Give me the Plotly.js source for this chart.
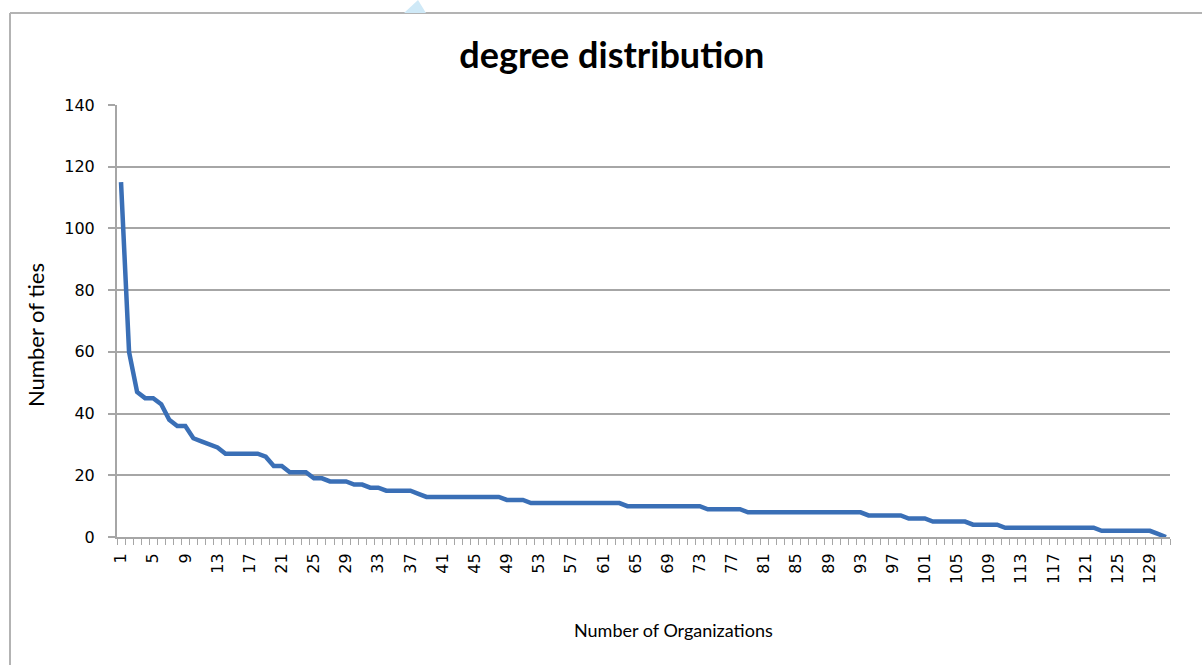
<!DOCTYPE html>
<html>
<head>
<meta charset="utf-8">
<script src="https://cdn.plot.ly/plotly-3.0.1.min.js"></script>
<style>
  html, body { margin: 0; padding: 0; background: #ffffff; }
  #chart { width: 1202px; height: 665px; }
</style>
</head>
<body>
<div id="chart"></div>
<script>
// Organizations (category index 1..131)
const organizations = [
  1,2,3,4,5,6,7,8,9,10,11,12,13,14,15,16,17,18,19,20,
  21,22,23,24,25,26,27,28,29,30,31,32,33,34,35,36,37,38,39,40,
  41,42,43,44,45,46,47,48,49,50,51,52,53,54,55,56,57,58,59,60,
  61,62,63,64,65,66,67,68,69,70,71,72,73,74,75,76,77,78,79,80,
  81,82,83,84,85,86,87,88,89,90,91,92,93,94,95,96,97,98,99,100,
  101,102,103,104,105,106,107,108,109,110,111,112,113,114,115,116,117,118,119,120,
  121,122,123,124,125,126,127,128,129,130,131
];

// Number of ties per organization
const ties = [
  115,60,47,45,45,43,38,36,36,32,31,30,29,27,27,27,27,27,26,23,
  23,21,21,21,19,19,18,18,18,17,17,16,16,15,15,15,15,14,13,13,
  13,13,13,13,13,13,13,13,12,12,12,11,11,11,11,11,11,11,11,11,
  11,11,11,10,10,10,10,10,10,10,10,10,10,9,9,9,9,9,8,8,
  8,8,8,8,8,8,8,8,8,8,8,8,8,7,7,7,7,7,6,6,
  6,5,5,5,5,5,4,4,4,4,3,3,3,3,3,3,3,3,3,3,
  3,3,2,2,2,2,2,2,2,1,0
];

// Tick labels shown on the category axis
const xTickLabels = ["1","5","9","13","17","21","25","29","33","37","41","45","49","53","57","61","65","69","73","77","81","85","89","93","97","101","105","109","113","117","121","125","129"];
const xTickValues = [1,5,9,13,17,21,25,29,33,37,41,45,49,53,57,61,65,69,73,77,81,85,89,93,97,101,105,109,113,117,121,125,129];
const yTickValues = [0,20,40,60,80,100,120,140];

const W = 1202, H = 665;
const M = {l: 117, r: 32, t: 105, b: 128};
const pw = W - M.l - M.r, ph = H - M.t - M.b;
const px = v => (v - M.l) / pw;
const py = v => (H - M.b - v) / ph;

const trace = {
  x: organizations,
  y: ties,
  type: 'scatter',
  mode: 'lines',
  line: {color: '#3a6fb6', width: 4.5},
  hoverinfo: 'x+y'
};

const layout = {
  width: W, height: H,
  margin: M,
  paper_bgcolor: '#ffffff',
  plot_bgcolor: '#ffffff',
  showlegend: false,
  title: {
    text: 'degree distribution',
    font: {family: 'Lato, "Open Sans", sans-serif', size: 36, color: '#000000', weight: 700},
    x: 0.509, xanchor: 'center',
    y: 1 - 55 / H, yanchor: 'middle'
  },
  xaxis: {
    range: [0.5, 131.5],
    tickmode: 'array',
    tickvals: xTickValues,
    ticktext: xTickLabels,
    tickangle: -90,
    ticks: '',
    ticklabelstandoff: 8,
    tickfont: {family: '"DejaVu Sans", sans-serif', size: 16, color: '#000000'},
    showgrid: false,
    zeroline: false,
    showline: true,
    linecolor: '#a6a6a6',
    linewidth: 2,
    minor: {ticks: 'outside', tick0: 0.5, dtick: 1, ticklen: 6, tickcolor: '#a6a6a6', tickwidth: 1, showgrid: false},
    fixedrange: true
  },
  yaxis: {
    range: [0, 140],
    tickmode: 'array',
    tickvals: yTickValues,
    ticks: 'outside',
    ticklen: 7,
    tickwidth: 2,
    tickcolor: '#a6a6a6',
    ticklabelstandoff: 10,
    tickfont: {family: '"DejaVu Sans", sans-serif', size: 16, color: '#000000'},
    showgrid: true,
    gridcolor: '#a6a6a6',
    gridwidth: 2,
    zeroline: false,
    showline: true,
    linecolor: '#a6a6a6',
    linewidth: 2,
    fixedrange: true
  },
  annotations: [
    {
      text: 'Number of Organizations',
      xref: 'paper', yref: 'paper',
      x: px(673), y: py(630),
      xanchor: 'center', yanchor: 'middle',
      showarrow: false,
      font: {family: 'Lato, "Open Sans", sans-serif', size: 18, color: '#000000'}
    },
    {
      text: 'Number of ties',
      xref: 'paper', yref: 'paper',
      x: px(35), y: py(335),
      xanchor: 'center', yanchor: 'middle',
      textangle: -90,
      showarrow: false,
      font: {family: 'Lato, "Open Sans", sans-serif', size: 22, color: '#000000'}
    }
  ],
  shapes: [
    {type: 'line', xref: 'paper', yref: 'paper', x0: px(10), x1: px(1202), y0: py(13), y1: py(13), line: {color: '#b3b3b3', width: 2}, layer: 'below'},
    {type: 'line', xref: 'paper', yref: 'paper', x0: px(10), x1: px(10), y0: py(13), y1: py(665), line: {color: '#b3b3b3', width: 2}, layer: 'below'},
    {type: 'path', xref: 'paper', yref: 'paper', path: 'M ' + px(404) + ' ' + py(13) + ' L ' + px(418) + ' ' + py(0) + ' L ' + px(426) + ' ' + py(13) + ' Z', fillcolor: '#cfe9f7', line: {width: 0}, layer: 'below'}
  ]
};

Plotly.newPlot('chart', [trace], layout, {displayModeBar: false, staticPlot: true});
</script>
</body>
</html>
